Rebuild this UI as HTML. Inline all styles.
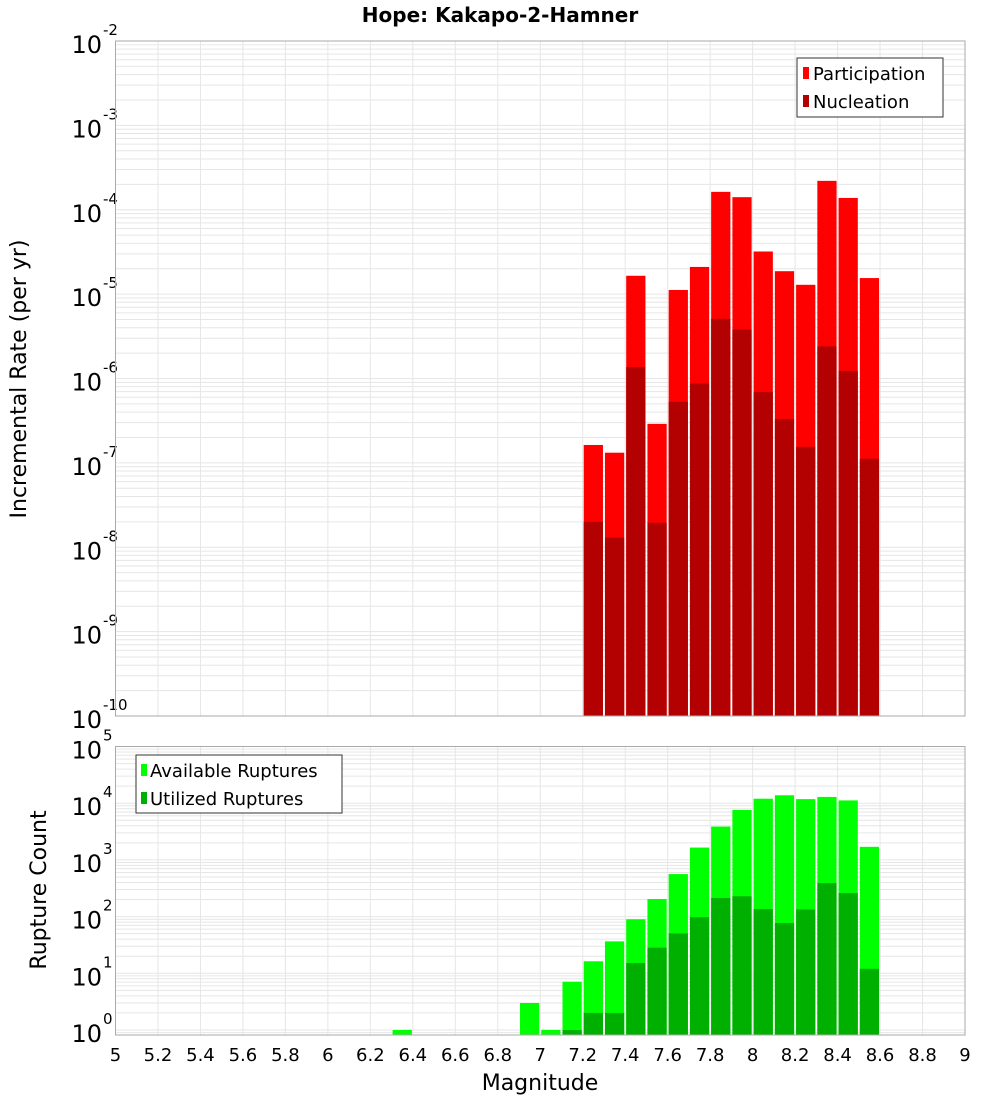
<!DOCTYPE html>
<html><head><meta charset="utf-8"><style>
body{margin:0;background:#fff;font-family:"DejaVu Sans","Liberation Sans",sans-serif}
svg text{font-family:"DejaVu Sans","Liberation Sans",sans-serif}
</style></head><body>
<svg id="c" width="1000" height="1100" xmlns="http://www.w3.org/2000/svg">
<text x="500" y="22" text-anchor="middle" font-size="20" font-weight="bold">Hope: Kakapo-2-Hamner</text>
<text transform="translate(26,379) rotate(-90)" text-anchor="middle" font-size="22">Incremental Rate (per yr)</text>
<text transform="translate(46,890) rotate(-90)" text-anchor="middle" font-size="22">Rupture Count</text>
<text x="540" y="1090" text-anchor="middle" font-size="22">Magnitude</text>
<g id="top"></g><g id="bot"></g>
<g>
<rect x="797" y="58" width="146" height="59" fill="#fff" stroke="#333"/>
<rect x="803" y="67" width="6" height="12" fill="#ff0000"/>
<text x="813" y="80" font-size="18">Participation</text>
<rect x="803" y="95" width="6" height="12" fill="#b30000"/>
<text x="813" y="108" font-size="18">Nucleation</text>
</g>
<g>
<rect x="136" y="755" width="206" height="58" fill="#fff" stroke="#333"/>
<rect x="141" y="764" width="6" height="12" fill="#00ff00"/>
<text x="150" y="777" font-size="18">Available Ruptures</text>
<rect x="141" y="792" width="6" height="12" fill="#00b000"/>
<text x="150" y="805" font-size="18">Utilized Ruptures</text>
</g>
</svg>
<script>
const topBins=[7.2,7.3,7.4,7.5,7.6,7.7,7.8,7.9,8.0,8.1,8.2,8.3,8.4,8.5];
const participation=[1.63e-7,1.32e-7,1.65e-5,2.9e-7,1.12e-5,2.1e-5,1.63e-4,1.41e-4,3.2e-5,1.87e-5,1.29e-5,2.2e-4,1.38e-4,1.55e-5];
const nucleation=[2e-8,1.3e-8,1.37e-6,1.95e-8,5.3e-7,8.7e-7,5.1e-6,3.8e-6,6.9e-7,3.3e-7,1.55e-7,2.4e-6,1.23e-6,1.12e-7];
const botBins=[6.3,6.9,7.0,7.1,7.2,7.3,7.4,7.5,7.6,7.7,7.8,7.9,8.0,8.1,8.2,8.3,8.4,8.5];
const available=[1,3.0,1,7.1,16.3,36.6,89.7,204,562,1650,3870,7600,12000,13800,11800,12900,11200,1700];
const utilized=[0,0,0,1,2,2,15.2,28.3,50.6,98,213,228,136,77,134,390,260,12];
const xTicks=["5","5.2","5.4","5.6","5.8","6","6.2","6.4","6.6","6.8","7","7.2","7.4","7.6","7.8","8","8.2","8.4","8.6","8.8","9"];
const topExp=[-2,-3,-4,-5,-6,-7,-8,-9,-10];
const botExp=[5,4,3,2,1,0];
const NS="http://www.w3.org/2000/svg";
const X0=115.5,X1=965;
const x=m=>X0+(m-5)*(X1-X0)/4;
const yTop=v=>41+(-2-Math.log10(v))*84.375;
const yBot=v=>1030-Math.log10(v)*56.7;
function mk(p,t,a){const e=document.createElementNS(NS,t);for(const k in a)e.setAttribute(k,a[k]);p.appendChild(e);return e;}
function panel(g,top,bot,yf,exps,minExp,maxExp,name){
  mk(g,'rect',{x:X0,y:top,width:X1-X0,height:bot-top,fill:'#fff'});
  for(let e=minExp;e<maxExp;e++)for(let k=1;k<10;k++){const yy=yf(k*Math.pow(10,e));if(yy<top||yy>bot)continue;
    const l=mk(g,'line',{x1:X0,x2:X1,y1:yy,y2:yy,stroke:'#e6e6e6','stroke-width':1});}
  for(let i=0;i<xTicks.length;i++){const xx=x(+xTicks[i]);mk(g,'line',{x1:xx,x2:xx,y1:top,y2:bot,stroke:'#e6e6e6'});}
  exps.forEach(e=>{const yy=yf(Math.pow(10,e));
    const t=mk(g,'text',{x:102,y:yy+12,'text-anchor':'end','font-size':24});t.textContent='10';
    
    
    const s=mk(g,'text',{x:103,y:yy-6,'font-size':15});s.textContent=String(e);
    
    });
}
const gt=document.getElementById('top'),gb=document.getElementById('bot');
panel(gt,41,716,yTop,topExp,-10,-2,'top');
panel(gb,746.5,1035,yBot,botExp,-1,5,'bottom');
function bars(g,bins,vals,yf,bottom,fill,name){
  bins.forEach((b,i)=>{const v=vals[i];if(!v)return;const y=Math.max(yf(v),0);
    const r=mk(g,'rect',{x:x(b)+1,y:y,width:x(b+0.1)-x(b)-2,height:bottom-y,fill:fill});
    
    });
}
bars(gt,topBins,participation,yTop,716,'#ff0000','participation');
bars(gt,topBins,nucleation,yTop,716,'#b30000','nucleation');
bars(gb,botBins,available,yBot,1035,'#00ff00','available');
bars(gb,botBins,utilized,yBot,1035,'#00b000','utilized');
mk(gt,'rect',{x:X0,y:41,width:X1-X0,height:675,fill:'none',stroke:'#aaa'});
mk(gb,'rect',{x:X0,y:746.5,width:X1-X0,height:288.5,fill:'none',stroke:'#aaa'});
xTicks.forEach(t=>{const e=mk(gb,'text',{x:x(+t),y:1061,'text-anchor':'middle','font-size':18});e.textContent=t;
  
  });
</script>
</body></html>
